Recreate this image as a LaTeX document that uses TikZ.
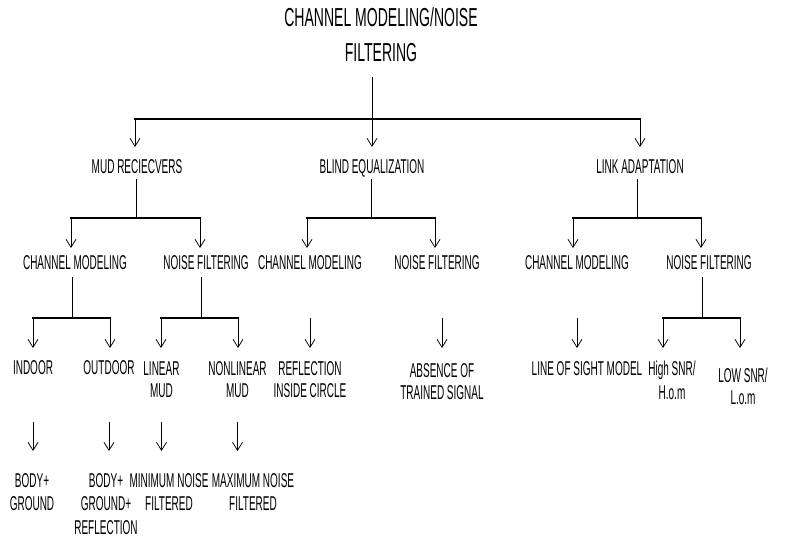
\documentclass[tikz,border=0pt]{standalone}
\usepackage{fontspec}
\setmainfont[FakeStretch=0.50]{Liberation Sans}
\newfontfamily\titlefont[FakeStretch=0.54]{Liberation Sans}
\usetikzlibrary{arrows.meta}
\begin{document}
\begin{tikzpicture}[x=1pt,y=-1pt,
  lbl/.style={anchor=north,inner sep=0pt,align=center,font=\fontsize{20}{22}\selectfont},
  lblb/.style={lbl,font=\fontsize{20}{23.5}\selectfont},
  ttl/.style={anchor=north,inner sep=0pt,align=center,font=\titlefont\fontsize{26}{35}\selectfont},
  stem/.style={line width=0.75pt,draw=black},
  barline/.style={line width=1.6pt,draw=black,line cap=rect},
  arr/.style={stem,-{Straight Barb[length=8pt,width=10pt,line width=0.75pt]}}
]
\fill[white] (0,0) rectangle (790,538);
\useasboundingbox (0,0) rectangle (790,538);

% title
\node[ttl] (root) at (381,7) {CHANNEL MODELING/NOISE\\FILTERING};

% level 1
\node[lbl] (mud)   at (137,159) {MUD RECIECVERS};
\node[lbl] (blind) at (372,159) {BLIND EQUALIZATION};
\node[lbl] (link)  at (640,159) {LINK ADAPTATION};

% level 2
\node[lbl] (mcm) at (75,255)  {CHANNEL MODELING};
\node[lbl] (mnf) at (206,255) {NOISE FILTERING};
\node[lbl] (bcm) at (310,255) {CHANNEL MODELING};
\node[lbl] (bnf) at (437,255) {NOISE FILTERING};
\node[lbl] (kcm) at (577,255) {CHANNEL MODELING};
\node[lbl] (knf) at (709,255) {NOISE FILTERING};

% level 3
\node[lbl] (indoor)  at (33,360)    {INDOOR};
\node[lbl] (outdoor) at (109,360)   {OUTDOOR};
\node[lbl] (linear)  at (161.5,361.5) {LINEAR\\MUD};
\node[lbl] (nonlin)  at (237.5,361.5) {NONLINEAR\\MUD};
\node[lbl] (refl)    at (310,361.5)   {REFLECTION\\INSIDE CIRCLE};
\node[lbl] (absence) at (442,363)   {ABSENCE OF\\TRAINED SIGNAL};
\node[lbl] (los)     at (587,361.5)   {LINE OF SIGHT MODEL};
\node[lblb] (high)   at (672,361)   {High SNR/\\H.o.m};
\node[lbl] (low)     at (743,368)   {LOW SNR/\\L.o.m};

% level 4
\node[lblb] (body1) at (32,473)  {BODY+\\GROUND};
\node[lblb] (body2) at (106,473) {BODY+\\GROUND+\\REFLECTION};
\node[lblb] (minf)  at (169,473) {MINIMUM NOISE\\FILTERED};
\node[lblb] (maxf)  at (253,473) {MAXIMUM NOISE\\FILTERED};

% junction coordinates
\coordinate (j0)  at (372,119);
\coordinate (j0L) at (135,119);
\coordinate (j0R) at (640,119);
\coordinate (jM)  at (136,218);
\coordinate (jML) at (71,218);
\coordinate (jMR) at (200,218);
\coordinate (jB)  at (371,218);
\coordinate (jBL) at (307,218);
\coordinate (jBR) at (435,218);
\coordinate (jK)  at (637,218);
\coordinate (jKL) at (573,218);
\coordinate (jKR) at (701,218);
\coordinate (jC)  at (72,318);
\coordinate (jCL) at (33,318);
\coordinate (jCR) at (110,318);
\coordinate (jN)  at (201,318);
\coordinate (jNL) at (161,318);
\coordinate (jNR) at (238,318);
\coordinate (jS)  at (702,318);
\coordinate (jSL) at (663,318);
\coordinate (jSR) at (740,318);
\coordinate (r4)  at (0,422);

% title -> level 1
\draw[arr,shorten <=16pt,shorten >=12pt] (j0 |- root.south) -- (j0 |- blind.north);
\draw[barline] (j0L) -- (j0R);
\draw[arr,shorten >=12pt] (j0L) -- (j0L |- mud.north);
\draw[arr,shorten >=12pt] (j0R) -- (j0R |- link.north);

% level 1 -> level 2
\draw[stem,shorten <=6pt] (jM |- mud.base) -- (jM);
\draw[barline] (jML) -- (jMR);
\draw[arr,shorten >=7pt] (jML) -- (jML |- mcm.north);
\draw[arr,shorten >=7pt] (jMR) -- (jMR |- mnf.north);

\draw[stem,shorten <=6pt] (jB |- blind.base) -- (jB);
\draw[barline] (jBL) -- (jBR);
\draw[arr,shorten >=7pt] (jBL) -- (jBL |- bcm.north);
\draw[arr,shorten >=7pt] (jBR) -- (jBR |- bnf.north);

\draw[stem,shorten <=6pt] (jK |- link.base) -- (jK);
\draw[barline] (jKL) -- (jKR);
\draw[arr,shorten >=7pt] (jKL) -- (jKL |- kcm.north);
\draw[arr,shorten >=7pt] (jKR) -- (jKR |- knf.north);

% level 2 -> level 3
\draw[stem,shorten <=8pt] (jC |- mcm.base) -- (jC);
\draw[barline] (jCL) -- (jCR);
\draw[arr,shorten >=12pt] (jCL) -- (jCL |- indoor.north);
\draw[arr,shorten >=12pt] (jCR) -- (jCR |- outdoor.north);

\draw[stem,shorten <=8pt] (jN |- mnf.base) -- (jN);
\draw[barline] (jNL) -- (jNR);
\draw[arr,shorten >=13.5pt] (jNL) -- (jNL |- linear.north);
\draw[arr,shorten >=13.5pt] (jNR) -- (jNR |- nonlin.north);

\draw[arr,shorten <=49pt,shorten >=13.5pt] (refl |- bcm.base) -- (refl.north);
\draw[arr,shorten <=49pt,shorten >=15pt] (absence |- bnf.base) -- (absence.north);
\draw[arr,shorten <=49pt,shorten >=13.5pt] (kcm.base) -- (kcm.base |- los.north);

\draw[stem,shorten <=8pt] (jS |- knf.base) -- (jS);
\draw[barline] (jSL) -- (jSR);
\draw[arr,shorten >=13pt] (jSL) -- (jSL |- high.north);
\draw[arr,shorten >=20pt] (jSR) -- (jSR |- low.north);

% level 3 -> level 4
\draw[arr,shorten >=22pt] (indoor |- r4) -- (indoor |- body1.north);
\draw[arr,shorten >=22pt] (outdoor |- r4) -- (outdoor |- body2.north);
\draw[arr,shorten >=22pt] (linear |- r4) -- (linear |- minf.north);
\draw[arr,shorten >=22pt] (nonlin |- r4) -- (nonlin |- maxf.north);
\end{tikzpicture}
\end{document}
